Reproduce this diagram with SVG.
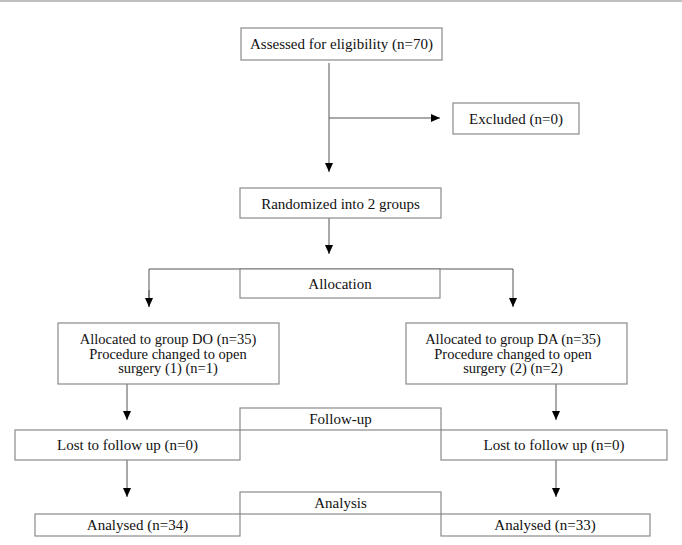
<svg xmlns="http://www.w3.org/2000/svg" width="682" height="545" viewBox="0 0 682 545">
<defs>
<marker id="ah" markerWidth="10" markerHeight="8" refX="9" refY="4" orient="auto" markerUnits="userSpaceOnUse">
<path d="M0,0 L9,4 L0,8 Z" fill="#000"/>
</marker>
<style>
.box{fill:#fff;stroke:#8a8a8a;stroke-width:1.2}
.t{font-family:"Liberation Serif","Times New Roman",serif;font-size:15px;fill:#111;text-anchor:middle;dominant-baseline:central}
.s{font-size:14.5px}
.c{fill:none;stroke:#555;stroke-width:1}
</style>
</defs>
<rect x="0" y="0" width="682" height="545" fill="#fff"/>
<line x1="0" y1="1" x2="682" y2="1" stroke="#aaa" stroke-width="1.5"/>
<g id="connectors">
<path class="c" d="M329,63 V172" marker-end="url(#ah)"/>
<path class="c" d="M329,118 H440" marker-end="url(#ah)"/>
<path class="c" d="M329,218 V254" marker-end="url(#ah)"/>
<path class="c" d="M149,307 V269 H513 V307" marker-end="url(#ah)"/>
<path class="c" d="M149,290 V307" marker-end="url(#ah)"/>
<path class="c" d="M127,384 V420" marker-end="url(#ah)"/>
<path class="c" d="M556,384 V420" marker-end="url(#ah)"/>
<path class="c" d="M127,460 V497" marker-end="url(#ah)"/>
<path class="c" d="M556,460 V497" marker-end="url(#ah)"/>
</g>
<g id="assessed"><rect class="box" x="241" y="28" width="201" height="32"/><text class="t" x="341.5" y="44">Assessed for eligibility (n=70)</text></g>
<g id="excluded"><rect class="box" x="453" y="103" width="126" height="31"/><text class="t" x="516" y="119">Excluded (n=0)</text></g>
<g id="randomized"><rect class="box" x="240" y="188" width="201" height="30"/><text class="t" x="340.5" y="204">Randomized into 2 groups</text></g>
<g id="allocation"><rect class="box" x="240" y="269" width="200" height="29"/><text class="t" x="340" y="284">Allocation</text></g>
<g id="groupDO"><rect class="box" x="58" y="323" width="221" height="61"/><text class="t s" x="168" y="339">Allocated to group DO (n=35)</text><text class="t s" x="168" y="353.5">Procedure changed to open</text><text class="t s" x="168" y="368">surgery (1) (n=1)</text></g>
<g id="groupDA"><rect class="box" x="406" y="323" width="221" height="61"/><text class="t s" x="513" y="339">Allocated to group DA (n=35)</text><text class="t s" x="513" y="353.5">Procedure changed to open</text><text class="t s" x="513" y="368">surgery (2) (n=2)</text></g>
<g id="followup"><rect class="box" x="240" y="408" width="201" height="22"/><text class="t" x="340.5" y="419">Follow-up</text></g>
<g id="lostDO"><rect class="box" x="15" y="430" width="225" height="30"/><text class="t" x="127.5" y="445">Lost to follow up (n=0)</text></g>
<g id="lostDA"><rect class="box" x="441" y="430" width="226" height="30"/><text class="t" x="554" y="445">Lost to follow up (n=0)</text></g>
<g id="analysis"><rect class="box" x="240" y="492" width="201" height="22"/><text class="t" x="340.5" y="503">Analysis</text></g>
<g id="analysedDO"><rect class="box" x="35" y="514" width="205" height="22"/><text class="t" x="137.5" y="525">Analysed (n=34)</text></g>
<g id="analysedDA"><rect class="box" x="441" y="514" width="209" height="22"/><text class="t" x="545" y="525">Analysed (n=33)</text></g>
</svg>
